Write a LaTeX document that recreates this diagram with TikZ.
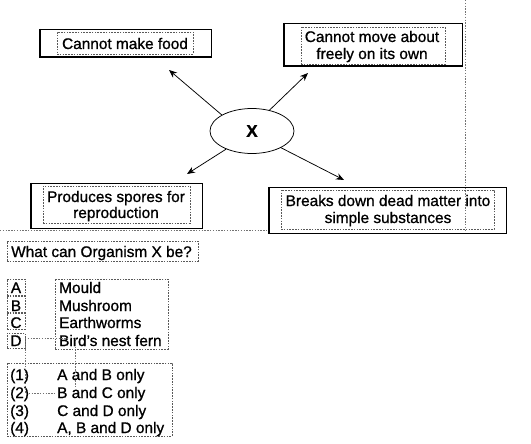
\documentclass[tikz,border=0pt]{standalone}
\usepackage{fontspec}
\setmainfont{Liberation Sans}[FakeBold=0.9]
\usetikzlibrary{arrows.meta,shapes.geometric}
\begin{document}
\begin{tikzpicture}[x=1pt,y=-1pt,
  txt/.style={font=\fontsize{15.4}{17}\selectfont, inner sep=0pt, anchor=base},
  txtl/.style={font=\fontsize{15.4}{17}\selectfont, inner sep=0pt, anchor=base west},
  outerbox/.style={draw=none, minimum width=#1, inner sep=0pt},
  dbox/.style={draw=black!65, dash pattern=on 1.6pt off 1.2pt, line width=0.45pt, inner sep=0pt},
  arr/.style={line width=0.75pt, -{Stealth[length=8pt,width=6.5pt]}},
  faint/.style={draw=black!55, dash pattern=on 1.4pt off 1.4pt, line width=0.45pt}]
\useasboundingbox (0,0) rectangle (531,444);
\fill[white] (0,0) rectangle (531,444);

% faint guide lines
\draw[faint] (465,0) -- (465,230);
\draw[faint] (0,230) -- (269,230);

% outer solid boxes
\node[outerbox=171pt, minimum height=28pt] (b1) at (125.5,43) {};
\node[outerbox=178pt, minimum height=43pt] (b2) at (373,44.5) {};
\node[outerbox=171pt, minimum height=45pt] (b3) at (116.5,205.5) {};
\node[outerbox=237pt, minimum height=46pt] (b4) at (387.5,210) {};
\foreach \b in {b1,b2,b3,b4}{
  \draw[line width=0.5pt] (\b.north west) -- (\b.north east);
  \draw[line width=1.4pt] (\b.north west) -- (\b.south west) -- (\b.south east) -- (\b.north east);
}

% inner dashed boxes
\node[dbox, minimum width=136pt, minimum height=22pt] (i1) at (125,43) {};
\node[dbox, minimum width=144pt, minimum height=37pt] (i2) at (373,45.5) {};
\node[dbox, minimum width=147pt, minimum height=37pt] (i3) at (116.5,204.5) {};
\node[dbox, minimum width=213pt, minimum height=39pt] (i4) at (387.5,209.5) {};

% texts in boxes
\node[txt] (t1) at (125,49) {Cannot make food};
\node[txt] (t2a) at (372,42) {Cannot move about};
\node[txt] (t2b) at (372,59) {freely on its own};
\node[txt] (t3a) at (116,202) {Produces spores for};
\node[txt] (t3b) at (116,218) {reproduction};
\node[txt] (t4a) at (388,206) {Breaks down dead matter into};
\node[txt] (t4b) at (388,223) {simple substances};

% central ellipse
\node[draw, ellipse, line width=0.75pt, minimum width=84pt, minimum height=45pt, inner sep=0pt,
      font=\fontsize{17}{19}\selectfont\bfseries] (x) at (252,131) {X};

\coordinate (e1) at (169,70);
\coordinate (e2) at (308,73);
\coordinate (e3) at (187,174);
\coordinate (e4) at (344,180);
\draw[arr] (x.152) -- (e1);
\draw[arr] (x.50) -- (e2);
\draw[arr] (x.215) -- (e3);
\draw[arr] (x.330) -- (e4);

% question
\node[dbox, minimum width=191pt, minimum height=20pt] (qb) at (102.5,251) {};
\node[txtl] (q) at (11,257) {What can Organism X be?};

% letters
\node[dbox, minimum width=18pt, minimum height=16pt] (la) at (16,287) {};
\node[dbox, minimum width=18pt, minimum height=16pt] (lb) at (16,304) {};
\node[dbox, minimum width=18pt, minimum height=16pt] (lc) at (16,321) {};
\node[dbox, minimum width=18pt, minimum height=15pt] (ld) at (16,340.5) {};
\node[txt] (ta) at (16,293) {A};
\node[txt] (tb) at (16,311) {B};
\node[txt] (tc) at (16,328) {C};
\node[txt] (td) at (16,346) {D};

% items
\node[dbox, minimum width=113pt, minimum height=70pt] (items) at (111.5,314) {};
\node[txtl] (m1) at (59,293) {Mould};
\node[txtl] (m2) at (59,311) {Mushroom};
\node[txtl] (m3) at (59,328) {Earthworms};
\node[txtl] (m4) at (59,346) {Bird's nest fern};

% answers
\node[dbox, minimum width=165pt, minimum height=73pt] (ans) at (89.5,399.5) {};
\node[txtl] (n1) at (10,380) {(1)};
\node[txtl] (n2) at (10,398) {(2)};
\node[txtl] (n3) at (10,416) {(3)};
\node[txtl] (n4) at (10,433) {(4)};
\node[txtl] (a1) at (57,380) {A and B only};
\node[txtl] (a2) at (57,398) {B and C only};
\node[txtl] (a3) at (57,416) {C and D only};
\node[txtl] (a4) at (57,433) {A, B and D only};

% faint crossing lines
\coordinate (f1) at (25,338);
\coordinate (f2) at (75,338);
\coordinate (f3) at (75,387);
\coordinate (f4) at (25,393);
\coordinate (f5) at (55,393);
\draw[faint] (f1) -- (f2) -- (f3);
\draw[faint] (f1) -- (f4) -- (f5);
\end{tikzpicture}
\end{document}
